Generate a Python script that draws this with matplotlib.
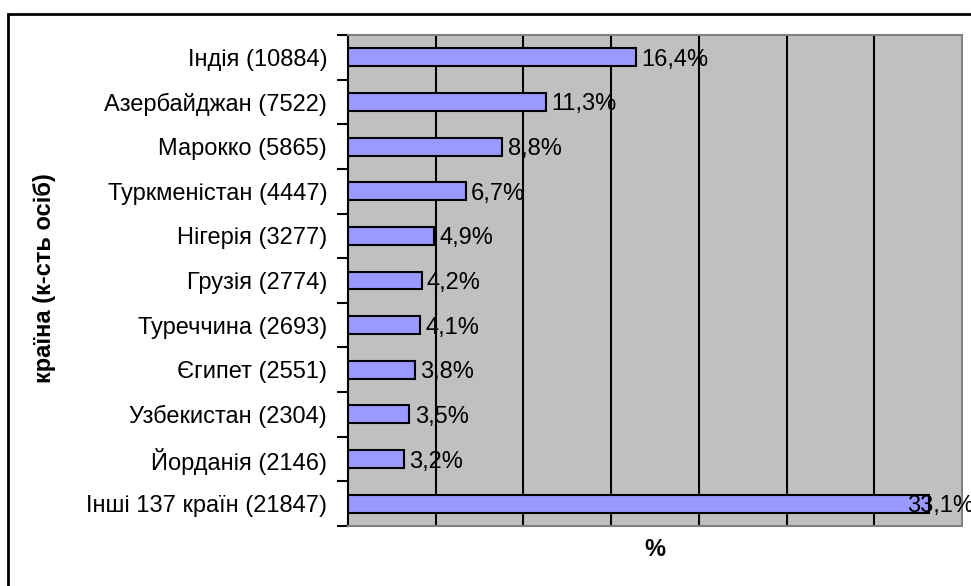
import matplotlib
matplotlib.use('Agg')
import matplotlib.pyplot as plt
import matplotlib.patches as patches
import numpy as np

# data (top to bottom)
countries = ['Індія (10884)', 'Азербайджан (7522)', 'Марокко (5865)',
             'Туркменістан (4447)', 'Нігерія (3277)', 'Грузія (2774)',
             'Туреччина (2693)', 'Єгипет (2551)', 'Узбекистан (2304)',
             'Йорданія (2146)', 'Інші 137 країн (21847)']
shares = [16.4, 11.3, 8.8, 6.7, 4.9, 4.2, 4.1, 3.8, 3.5, 3.2, 33.1]
share_labels = ['16,4%', '11,3%', '8,8%', '6,7%', '4,9%', '4,2%',
                '4,1%', '3,8%', '3,5%', '3,2%', '33,1%']

plt.rcParams['font.family'] = ['Liberation Sans', 'DejaVu Sans']
fs = 17

W, H = 971, 586
fig = plt.figure(figsize=(W / 100, H / 100), dpi=100)
fig.patch.set_facecolor('white')

# outer chart border (cut off at right and bottom)
border = patches.Rectangle((8 / W, -0.2), 1.2, 1 - 14 / H + 0.2,
                           transform=fig.transFigure, fill=False,
                           edgecolor='black', lw=2, clip_on=False)
fig.patches.append(border)

ax = fig.add_axes([348 / W, 1 - 526 / H, 614 / W, 491 / H])
ax.set_facecolor('#c0c0c0')

y = np.arange(len(countries))
ax.barh(y, shares, height=0.4, color='#9999ff', edgecolor='black',
        linewidth=1.5, zorder=3)

ax.set_xlim(0, 35)
ax.set_ylim(len(countries) - 0.5, -0.5)

ax.set_xticks(np.arange(5, 35, 5))
ax.xaxis.grid(True, color='black', linewidth=1.5, zorder=1)
ax.set_axisbelow(True)
ax.tick_params(axis='x', length=0, labelbottom=False)

ax.set_yticks(y)
ax.set_yticklabels(countries, fontsize=fs)
ax.set_yticks(np.arange(-0.5, len(countries), 1), minor=True)
ax.tick_params(axis='y', which='major', length=0, pad=15)
ax.tick_params(axis='y', which='minor', length=8, width=1.5,
               direction='out', color='black')

for side in ['top', 'right', 'bottom']:
    ax.spines[side].set_color('#808080')
    ax.spines[side].set_linewidth(1.5)
ax.spines['left'].set_color('black')
ax.spines['left'].set_linewidth(1.5)

for i, (v, lab) in enumerate(zip(shares, share_labels)):
    if v > 30:
        # last label sits over the bar end and runs off the chart, as in the original
        ax.text(v - 1.25, i, lab, fontsize=fs, va='center_baseline', ha='left',
                clip_on=False, zorder=4)
    else:
        ax.text(v + 0.3, i, lab, fontsize=fs, va='center_baseline', ha='left',
                zorder=4)

fig.text(45 / W, 1 - 278 / H, 'країна (к-сть осіб)', rotation=90,
         fontsize=fs, fontweight='bold', ha='center', va='center')
fig.text(655 / W, 1 - 550 / H, '%', fontsize=fs, fontweight='bold',
         ha='center', va='center')

fig.savefig('out.png', dpi=100)
